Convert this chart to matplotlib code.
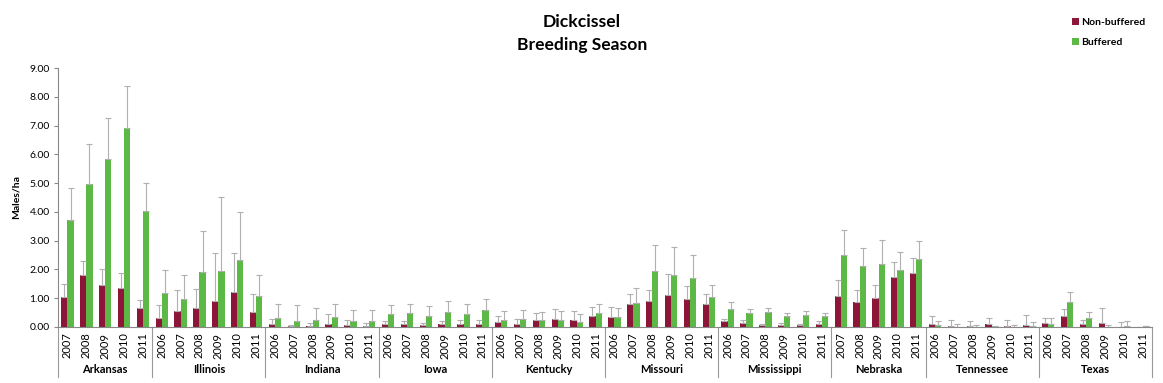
import matplotlib
matplotlib.use("Agg")
import matplotlib.pyplot as plt
import matplotlib.transforms as mtransforms
import numpy as np

plt.rcParams['font.family'] = ['Lato', 'DejaVu Sans']

states = ["Arkansas", "Illinois", "Indiana", "Iowa", "Kentucky", "Missouri",
          "Mississippi", "Nebraska", "Tennessee", "Texas"]
years = {
    "Arkansas": ["2007", "2008", "2009", "2010", "2011"],
    "Illinois": ["2006", "2007", "2008", "2009", "2010", "2011"],
    "Indiana": ["2006", "2007", "2008", "2009", "2010", "2011"],
    "Iowa": ["2006", "2007", "2008", "2009", "2010", "2011"],
    "Kentucky": ["2006", "2007", "2008", "2009", "2010", "2011"],
    "Missouri": ["2006", "2007", "2008", "2009", "2010", "2011"],
    "Mississippi": ["2006", "2007", "2008", "2009", "2010", "2011"],
    "Nebraska": ["2007", "2008", "2009", "2010", "2011"],
    "Tennessee": ["2006", "2007", "2008", "2009", "2010", "2011"],
    "Texas": ["2006", "2007", "2008", "2009", "2010", "2011"],
}

# Non-buffered means
nonbuf = {
    "Arkansas": [1.05, 1.80, 1.47, 1.35, 0.65],
    "Illinois": [0.33, 0.55, 0.67, 0.90, 1.20, 0.52],
    "Indiana": [0.09, 0.02, 0.02, 0.09, 0.06, 0.02],
    "Iowa": [0.09, 0.09, 0.08, 0.09, 0.09, 0.11],
    "Kentucky": [0.17, 0.09, 0.23, 0.27, 0.24, 0.37],
    "Missouri": [0.36, 0.79, 0.90, 1.10, 0.96, 0.81],
    "Mississippi": [0.20, 0.14, 0.07, 0.06, 0.07, 0.12],
    "Nebraska": [1.09, 0.87, 1.01, 1.75, 1.86],
    "Tennessee": [0.12, 0.05, 0.05, 0.09, 0.04, 0.08],
    "Texas": [0.14, 0.39, 0.12, 0.14, 0.01, 0.00],
}
# Non-buffered upper error-bar ends
nonbuf_top = {
    "Arkansas": [1.50, 2.30, 2.02, 1.87, 0.93],
    "Illinois": [0.75, 1.30, 1.33, 2.58, 2.58, 1.13],
    "Indiana": [0.27, 0.07, 0.13, 0.44, 0.23, 0.13],
    "Iowa": [0.21, 0.20, 0.15, 0.20, 0.25, 0.25],
    "Kentucky": [0.37, 0.27, 0.47, 0.61, 0.54, 0.68],
    "Missouri": [0.68, 1.13, 1.30, 1.85, 1.41, 1.16],
    "Mississippi": [0.29, 0.24, 0.12, 0.13, 0.12, 0.20],
    "Nebraska": [1.65, 1.30, 1.45, 2.27, 2.41],
    "Tennessee": [0.37, 0.25, 0.20, 0.31, 0.25, 0.40],
    "Texas": [0.32, 0.61, 0.23, 0.66, 0.16, 0.00],
}
# Buffered means
buf = {
    "Arkansas": [3.73, 4.97, 5.85, 6.92, 4.03],
    "Illinois": [1.17, 0.97, 1.92, 1.95, 2.32, 1.07],
    "Indiana": [0.32, 0.22, 0.24, 0.36, 0.22, 0.20],
    "Iowa": [0.44, 0.47, 0.38, 0.52, 0.44, 0.58],
    "Kentucky": [0.24, 0.27, 0.23, 0.23, 0.16, 0.47],
    "Missouri": [0.36, 0.82, 1.94, 1.79, 1.69, 1.05],
    "Mississippi": [0.64, 0.47, 0.52, 0.38, 0.42, 0.38],
    "Nebraska": [2.50, 2.11, 2.20, 1.97, 2.38],
    "Tennessee": [0.06, 0.01, 0.01, 0.02, 0.01, 0.02],
    "Texas": [0.12, 0.86, 0.30, 0.01, 0.03, 0.02],
}
# Buffered upper error-bar ends
buf_top = {
    "Arkansas": [4.83, 6.37, 7.25, 8.37, 5.02],
    "Illinois": [1.97, 1.80, 3.33, 4.53, 4.00, 1.80],
    "Indiana": [0.79, 0.75, 0.67, 0.79, 0.58, 0.58],
    "Iowa": [0.76, 0.79, 0.73, 0.89, 0.79, 0.98],
    "Kentucky": [0.57, 0.59, 0.51, 0.54, 0.45, 0.79],
    "Missouri": [0.65, 1.34, 2.85, 2.78, 2.49, 1.45],
    "Mississippi": [0.86, 0.61, 0.65, 0.47, 0.54, 0.47],
    "Nebraska": [3.37, 2.73, 3.01, 2.59, 2.98],
    "Tennessee": [0.20, 0.09, 0.06, 0.05, 0.06, 0.17],
    "Texas": [0.32, 1.20, 0.51, 0.07, 0.20, 0.02],
}
yticks = [0, 1, 2, 3, 4, 5, 6, 7, 8, 9]

RED = "#8C1538"
GREEN = "#5CB946"
ERR = "#B0B0B0"

fig = plt.figure(figsize=(11.63, 3.83), dpi=100)
ax = fig.add_axes([58 / 1163, 1 - 327 / 383, (1152 - 58) / 1163, (327 - 68) / 383])

labels, nb, nbt, bb, bbt, bounds = [], [], [], [], [], [0]
for s in states:
    labels += years[s]
    nb += nonbuf[s]
    nbt += nonbuf_top[s]
    bb += buf[s]
    bbt += buf_top[s]
    bounds.append(len(labels))
nb, nbt, bb, bbt = map(np.array, (nb, nbt, bb, bbt))
x = np.arange(len(labels))
w = 0.33

ek = dict(ecolor=ERR, elinewidth=0.8, capsize=2.5, capthick=0.8)
ax.bar(x - w / 2, nb, w, color=RED, label="Non-buffered",
       yerr=[np.zeros_like(nb), np.clip(nbt - nb, 0, None)], error_kw=ek, zorder=2)
ax.bar(x + w / 2, bb, w, color=GREEN, label="Buffered",
       yerr=[np.zeros_like(bb), np.clip(bbt - bb, 0, None)], error_kw=ek, zorder=2)

ax.set_xlim(-0.5, len(labels) - 0.5)
ax.set_ylim(0, 9)
ax.set_yticks(yticks)
ax.set_yticklabels([f"{v:.2f}" for v in yticks], fontsize=7.5)
ax.set_xticks(x)
ax.set_xticklabels(labels, rotation=90, fontsize=8)
ax.tick_params(axis='x', length=0, pad=4)
ax.tick_params(axis='y', length=3, width=0.8, color="#888888", pad=3)
for sp in ["top", "right"]:
    ax.spines[sp].set_visible(False)
ax.spines["left"].set_color("#888888")
ax.spines["bottom"].set_color("#888888")
ax.spines["left"].set_linewidth(0.8)
ax.spines["bottom"].set_linewidth(0.8)
ax.set_ylabel("Males/ha", fontsize=7.5, fontweight="bold", labelpad=6)

trans = mtransforms.blended_transform_factory(ax.transData, ax.transAxes)
for b in bounds:
    ax.plot([b - 0.5, b - 0.5], [0, -0.193], transform=trans, color="#999999",
            lw=0.8, clip_on=False)
for i, s in enumerate(states):
    mid = (bounds[i] + bounds[i + 1] - 1) / 2
    ax.text(mid, -0.166, s, transform=trans, ha="center", va="center",
            fontsize=8, fontweight="bold")

fig.text(582 / 1163, 1 - 22 / 383, "Dickcissel", ha="center", va="center",
         fontsize=12.6, fontweight="bold")
fig.text(582 / 1163, 1 - 45 / 383, "Breeding Season", ha="center", va="center",
         fontsize=12.6, fontweight="bold")

leg = fig.legend(loc="upper left", bbox_to_anchor=(1068 / 1163, 1 - 14 / 383),
                 frameon=False, fontsize=7.5, handlelength=0.7, handleheight=0.7,
                 handletextpad=0.2, labelspacing=1.0, borderaxespad=0)
for t in leg.get_texts():
    t.set_fontweight("bold")

fig.savefig("out.png", dpi=100)
